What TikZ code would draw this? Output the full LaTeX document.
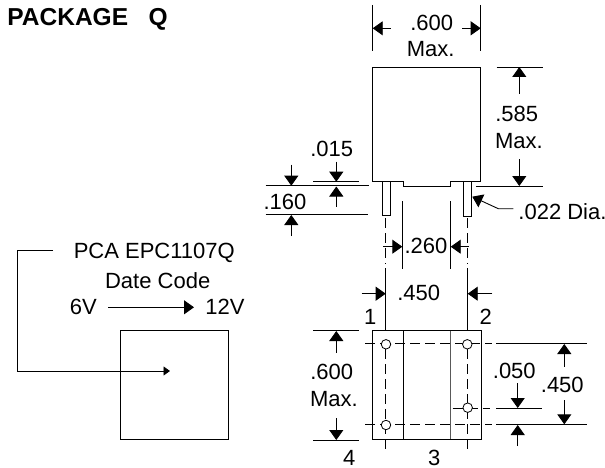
\documentclass[tikz,border=0pt]{standalone}
\usepackage{fontspec}
\setmainfont{Liberation Sans}
\usetikzlibrary{arrows.meta}

\begin{document}
\begin{tikzpicture}[
            x=1pt, y=-1pt,
            line width=0.9pt,
            every node/.style={inner sep=0pt, font=\fontsize{22}{24}\selectfont},
            dimarrow/.style={-{Triangle[length=10pt,width=14pt]}},
            smallarrow/.style={-{Triangle[length=6.5pt,width=9pt]}},
            centerline/.style={dash pattern=on 10pt off 5pt, line width=0.8pt},
            pinhole/.style={circle, draw, fill=white, minimum size=9.5pt, line width=0.8pt}
            ]
        \useasboundingbox (0,0) rectangle (605,468);

        % Titolo
        \node[anchor=west, font=\fontsize{24.5}{28}\selectfont\bfseries] (title) at (7,19) {PACKAGE\ \ \ Q};

        % Vista laterale
        \coordinate (bodyNW) at (372.7,67);
        \coordinate (bodyNE) at (480.7,67);
        \draw (bodyNW) -- (bodyNE) -- (480.7,181.7) -- (450.7,181.7) -- (450.7,186) -- (403.3,186)
            -- (403.3,181.7) -- (372.7,181.7) -- cycle;
        \draw (382,181.7) rectangle (390.3,215.3);
        \draw (463.7,181.7) rectangle (471.7,216);

        % Quota .600 in alto
        \coordinate (wL) at (372.7,28.3);
        \coordinate (wR) at (480.7,28.3);
        \draw (372.7,5) -- (372.7,50.7);
        \draw (480.7,5) -- (480.7,50.7);
        \draw[dimarrow] (390.7,28.3) -- (wL);
        \draw[dimarrow] (462,28.3) -- (wR);
        \node (widthval) at (431.7,23.3) {.600};
        \node (widthmax) at (430.7,49) {Max.};

        % Quota .585
        \draw (496.7,67) -- (542.7,67);
        \draw (476,186) -- (542.7,186);
        \draw[dimarrow] (519.3,94) -- (519.3,67);
        \draw[dimarrow] (519.3,159.3) -- (519.3,186);
        \node (heightval) at (516.7,114) {.585};
        \node (heightmax) at (519,140.7) {Max.};

        % Quote .015 e .160
        \draw (313.3,181.7) -- (359,181.7);
        \draw (265.7,185.7) -- (368.7,185.7);
        \draw (265.7,214.7) -- (368,214.7);
        \draw[dimarrow] (336.3,161.7) -- (336.3,181.7);
        \draw[dimarrow] (336.3,206.7) -- (336.3,186.5);
        \draw[dimarrow] (291.3,164.7) -- (291.3,185.7);
        \draw[dimarrow] (291.3,236) -- (291.3,215);
        \node (standoff) at (331.7,149) {.015};
        \node (pinlen) at (285,202) {.160};

        % Diametro
        \node[anchor=west] (dia) at (518,211.7) {.022 Dia.};
        \draw[dimarrow] (513.3,208.7) -- (498.3,208.7) -- (472.3,196.7);

        % Assi dei piedini
        \draw[centerline] (385.7,218) -- (385.7,264);
        \draw[centerline] (467,218) -- (467,264);
        \draw (385.7,268) -- (385.7,330.7);
        \draw (467,268) -- (467,330.7);
        \draw[centerline] (385.7,349) -- (385.7,449);
        \draw[centerline] (467,349) -- (467,449);

        % Quota .260
        \draw (402.3,201) -- (402.3,269.3);
        \draw (450.3,201) -- (450.3,269.3);
        \draw[dimarrow] (383.3,246.7) -- (402.3,246.7);
        \draw[dimarrow] (468.7,246.7) -- (450.7,246.7);
        \node (spacing) at (426,246) {.260};

        % Quota .450 orizzontale
        \draw[dimarrow] (361.7,293.7) -- (385.7,293.7);
        \draw[dimarrow] (492.3,293.7) -- (467.7,293.7);
        \node (pitch) at (418.7,292.7) {.450};
        \node (pinA) at (370.3,317.3) {1};
        \node (pinB) at (485.7,317.3) {2};

        % Vista dal basso
        \draw (372.7,330.7) rectangle (481,439);
        \draw (403.3,330.7) -- (403.3,439);
        \draw[black!65] (450.7,330.7) -- (450.7,439);
        \draw[centerline] (365,343.7) -- (492,343.7);
        \draw[centerline] (365,424.3) -- (492,424.3);
        \draw[centerline] (452.7,408) -- (490,408);
        \node[pinhole] (holeA) at (386,344.3) {};
        \node[pinhole] (holeB) at (467.3,344.3) {};
        \node[pinhole] (holeC) at (467.7,407.7) {};
        \node[pinhole] (holeD) at (386,425) {};
        \draw (496,343.7) -- (587.3,343.7);
        \draw (496,424.3) -- (587.3,424.3);
        \draw (496,408) -- (542.3,408);

        % Quota .600 in basso
        \draw (313.3,330) -- (359,330);
        \draw (313.3,440) -- (359,440);
        \draw[dimarrow] (336.3,352.7) -- (336.3,331);
        \draw[dimarrow] (336.3,418.3) -- (336.3,440);
        \node (depthval) at (331.7,371.7) {.600};
        \node (depthmax) at (334,399.3) {Max.};

        % Quote .050 e .450 verticale
        \draw[dimarrow] (517.7,383.3) -- (517.7,408);
        \draw[dimarrow] (517.7,446) -- (517.7,425);
        \node (offset) at (514.3,370.7) {.050};
        \draw[dimarrow] (564.3,366.7) -- (564.3,344);
        \draw[dimarrow] (564.3,400) -- (564.3,424.3);
        \node (rowpitch) at (562.3,384.7) {.450};
        \node (pinD) at (349.3,458) {4};
        \node (pinC) at (434.3,458) {3};

        % Marcatura
        \node (mark) at (154.3,252.7) {PCA EPC1107Q};
        \node (code) at (157.7,280.7) {Date Code};
        \node (lowV) at (83.3,307.3) {6V};
        \node (highV) at (225,307.3) {12V};
        \draw[dimarrow] (108.3,307.3) -- (194,307.3);
        \draw (120,330.3) rectangle (228.3,439);
        \draw[smallarrow] (53,250.3) -- (17,250.3) -- (17,371) -- (170,371);
        \end{tikzpicture}
\end{document}
